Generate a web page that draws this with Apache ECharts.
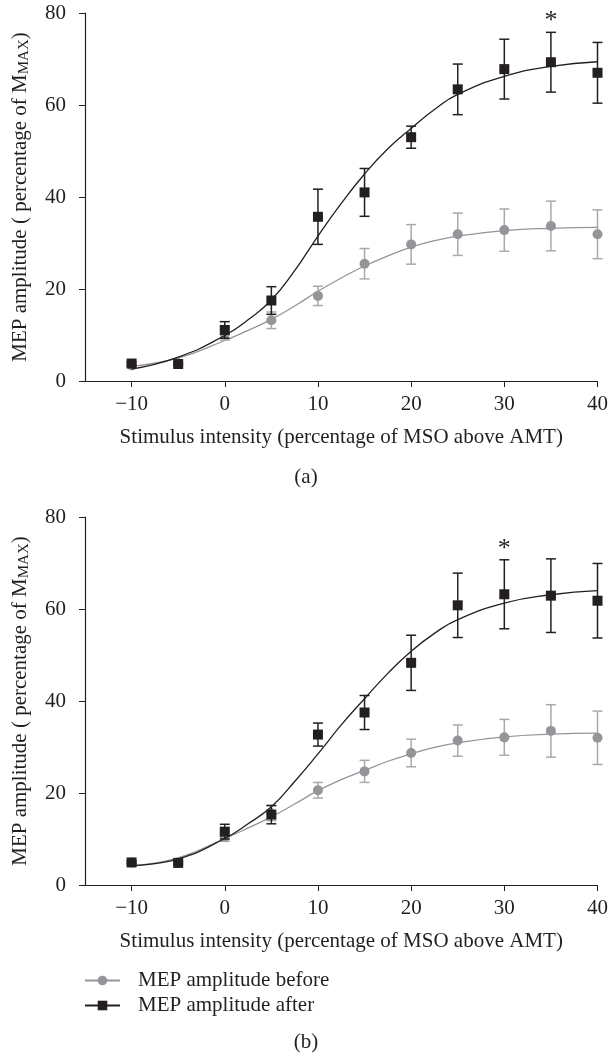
<!DOCTYPE html>
<html>

<head>
	<meta charset="UTF-8" />
	<title></title>
	<style type="text/css">
		* {
			margin: 0;
			padding: 0;
		}

		#main {
			width: 611px;
			height: 1055px;
			background-color: #fff;
		}
	</style>
</head>

<body>
	<div id="main"></div>
</body>
<script src="https://cdn.jsdelivr.net/npm/echarts@6/dist/echarts.min.js"></script>
<script type="text/javascript">
	// stimulus intensities (percentage of MSO above AMT)
	var xs = [-10, -5, 0, 5, 10, 15, 20, 25, 30, 35, 40]
	var xTicks = [-10, 0, 10, 20, 30, 40]

	// panel (a)
	var beforeA = [3.4, 3.8, 10.2, 13.2, 18.5, 25.5, 29.7, 31.9, 32.8, 33.7, 31.9]
	var beforeAErr = [0.4, 0.4, 1.3, 1.8, 2.1, 3.3, 4.3, 4.6, 4.6, 5.4, 5.3]
	var afterA = [3.8, 3.7, 11.1, 17.5, 35.7, 41.0, 53.0, 63.4, 67.8, 69.3, 67.0]
	var afterAErr = [0.4, 0.3, 1.8, 3.0, 6.0, 5.2, 2.4, 5.5, 6.5, 6.5, 6.6]
	var starsA = [35]

	// panel (b)
	var beforeB = [4.9, 4.9, 10.5, 15.6, 20.6, 24.7, 28.7, 31.4, 32.1, 33.5, 32.0]
	var beforeBErr = [0.3, 0.3, 1.0, 1.6, 1.7, 2.4, 3.0, 3.4, 3.9, 5.7, 5.8]
	var afterB = [4.9, 4.8, 11.6, 15.3, 32.7, 37.5, 48.3, 60.8, 63.2, 62.9, 61.8]
	var afterBErr = [0.3, 0.3, 1.6, 2.0, 2.5, 3.7, 6.0, 7.0, 7.5, 8.0, 8.1]
	var starsB = [30]

	// fitted curves
	var fitX = [-10, -5, 0, 2.5, 5, 7.5, 10, 12.5, 15, 17.5, 20, 22.5, 25, 30, 35, 40]
	var fitBeforeA = [3.2, 5.0, 8.8, 11.0, 13.4, 16.3, 19.5, 22.4, 25.0, 27.2, 29.1, 30.5, 31.5, 32.7, 33.2, 33.4]
	var fitAfterA = [2.6, 5.2, 9.9, 13.3, 17.6, 24.0, 31.5, 38.6, 45.0, 50.5, 54.9, 59.0, 62.3, 66.2, 68.4, 69.4]
	var fitBeforeB = [4.2, 5.9, 10.1, 12.4, 14.8, 17.6, 20.5, 22.9, 24.9, 26.9, 28.5, 29.9, 30.9, 32.2, 32.8, 33.0]
	var fitAfterB = [4.2, 5.7, 10.1, 13.3, 17.0, 22.5, 28.5, 34.8, 40.5, 46.0, 50.8, 54.7, 57.7, 61.3, 63.1, 64.0]

	var FONT = '"Liberation Serif", "DejaVu Serif", serif'
	var FS = 21
	var INK = '#231f20'
	var GREY = '#939598'

	var myChart = echarts.init(document.getElementById('main'))

	function zip(a, b, c) {
		return a.map(function (v, i) {
			return c ? [v, b[i], c[i]] : [v, b[i]]
		})
	}

	// error bar with caps
	function errorBar(color) {
		return function (params, api) {
			var x = api.value(0), y = api.value(1), e = api.value(2)
			var hi = api.coord([x, y + e])
			var lo = api.coord([x, y - e])
			var w = 5
			var style = { stroke: color, lineWidth: 1.5 }
			return {
				type: 'group',
				children: [
					{ type: 'line', shape: { x1: hi[0], y1: hi[1], x2: lo[0], y2: lo[1] }, style: style },
					{ type: 'line', shape: { x1: hi[0] - w, y1: hi[1], x2: hi[0] + w, y2: hi[1] }, style: style },
					{ type: 'line', shape: { x1: lo[0] - w, y1: lo[1], x2: lo[0] + w, y2: lo[1] }, style: style }
				]
			}
		}
	}

	// asterisk above the upper error bar
	function starItem(params, api) {
		var p = api.coord([api.value(0), api.value(1) + api.value(2)])
		return {
			type: 'text',
			x: p[0],
			y: p[1] - 11,
			style: { text: '*', fill: INK, font: '26px ' + FONT, align: 'center', verticalAlign: 'middle' }
		}
	}

	function starData(stars, mean, err) {
		return stars.map(function (s) {
			var i = xs.indexOf(s)
			return [s, mean[i], err[i]]
		})
	}

	function xAxis(idx) {
		return {
			type: 'value',
			gridIndex: idx,
			min: -15,
			max: 40,
			name: 'Stimulus intensity (percentage of MSO above AMT)',
			nameLocation: 'middle',
			nameGap: 46,
			nameTextStyle: { fontFamily: FONT, fontSize: FS, color: INK },
			splitLine: { show: false },
			axisLine: { onZero: false, lineStyle: { color: INK, width: 1.2 } },
			axisTick: { length: 6, lineStyle: { color: INK }, customValues: xTicks },
			axisLabel: {
				margin: 13, fontFamily: FONT, fontSize: FS, color: INK, customValues: xTicks,
				formatter: function (v) { return v < 0 ? '\u2212' + (-v) : v }
			}
		}
	}

	function yAxis(idx) {
		return {
			type: 'value',
			gridIndex: idx,
			min: 0,
			max: 80,
			interval: 20,
			name: '{n|MEP amplitude ( percentage of M}{s|MAX}{n|)}',
			nameLocation: 'middle',
			nameRotate: 90,
			nameGap: 53,
			nameTextStyle: {
				rich: {
					n: { fontFamily: FONT, fontSize: FS, color: INK, lineHeight: 24 },
					s: { fontFamily: FONT, fontSize: 15, color: INK, verticalAlign: 'bottom', lineHeight: 24 }
				}
			},
			splitLine: { show: false },
			axisLine: { show: true, onZero: false, lineStyle: { color: INK, width: 1.2 } },
			axisTick: { show: true, length: 6, lineStyle: { color: INK } },
			axisLabel: { margin: 19, fontFamily: FONT, fontSize: FS, color: INK }
		}
	}

	function panel(idx, before, beforeErr, after, afterErr, fitBefore, fitAfter, stars) {
		return [{
			name: 'MEP amplitude before',
			type: 'line',
			xAxisIndex: idx, yAxisIndex: idx,
			data: zip(fitX, fitBefore),
			smooth: true,
			symbol: 'circle',
			showSymbol: false,
			itemStyle: { color: GREY },
			lineStyle: { color: GREY, width: 1.3 },
			z: 2
		}, {
			name: 'before error',
			type: 'custom',
			xAxisIndex: idx, yAxisIndex: idx,
			renderItem: errorBar('#a7a9ac'),
			data: zip(xs, before, beforeErr),
			z: 3
		}, {
			name: 'before points',
			type: 'scatter',
			xAxisIndex: idx, yAxisIndex: idx,
			symbol: 'circle',
			symbolSize: 10,
			itemStyle: { color: GREY, opacity: 1 },
			data: zip(xs, before),
			z: 4
		}, {
			name: 'MEP amplitude after',
			type: 'line',
			xAxisIndex: idx, yAxisIndex: idx,
			data: zip(fitX, fitAfter),
			smooth: true,
			symbol: 'rect',
			showSymbol: false,
			itemStyle: { color: INK },
			lineStyle: { color: INK, width: 1.3 },
			z: 5
		}, {
			name: 'after error',
			type: 'custom',
			xAxisIndex: idx, yAxisIndex: idx,
			renderItem: errorBar(INK),
			data: zip(xs, after, afterErr),
			z: 6
		}, {
			name: 'after points',
			type: 'scatter',
			xAxisIndex: idx, yAxisIndex: idx,
			symbol: 'rect',
			symbolSize: 10,
			itemStyle: { color: INK, opacity: 1 },
			data: zip(xs, after),
			z: 7
		}, {
			name: 'significance',
			type: 'custom',
			xAxisIndex: idx, yAxisIndex: idx,
			renderItem: starItem,
			data: starData(stars, after, afterErr),
			z: 8
		}]
	}

	var option = {
		animation: false,
		backgroundColor: '#fff',
		grid: [
			{ left: 85, right: 7, top: 13, height: 368 },
			{ left: 85, right: 7, top: 517, height: 368 }
		],
		xAxis: [xAxis(0), xAxis(1)],
		yAxis: [yAxis(0), yAxis(1)],
		legend: {
			data: ['MEP amplitude before', 'MEP amplitude after'],
			orient: 'vertical',
			left: 84,
			top: 970,
			padding: 0,
			itemGap: 4,
			itemWidth: 35,
			itemHeight: 12,
			selectedMode: false,
			textStyle: { fontFamily: FONT, fontSize: FS, color: INK, padding: [0, 0, 0, 13] }
		},
		graphic: [
			{ type: 'text', x: 306, y: 477, style: { text: '(a)', font: FS + 'px ' + FONT, fill: INK, align: 'center', verticalAlign: 'middle' } },
			{ type: 'text', x: 306, y: 1042, style: { text: '(b)', font: FS + 'px ' + FONT, fill: INK, align: 'center', verticalAlign: 'middle' } }
		],
		series: panel(0, beforeA, beforeAErr, afterA, afterAErr, fitBeforeA, fitAfterA, starsA)
			.concat(panel(1, beforeB, beforeBErr, afterB, afterBErr, fitBeforeB, fitAfterB, starsB))
	}
	myChart.setOption(option)
</script>

</html>
